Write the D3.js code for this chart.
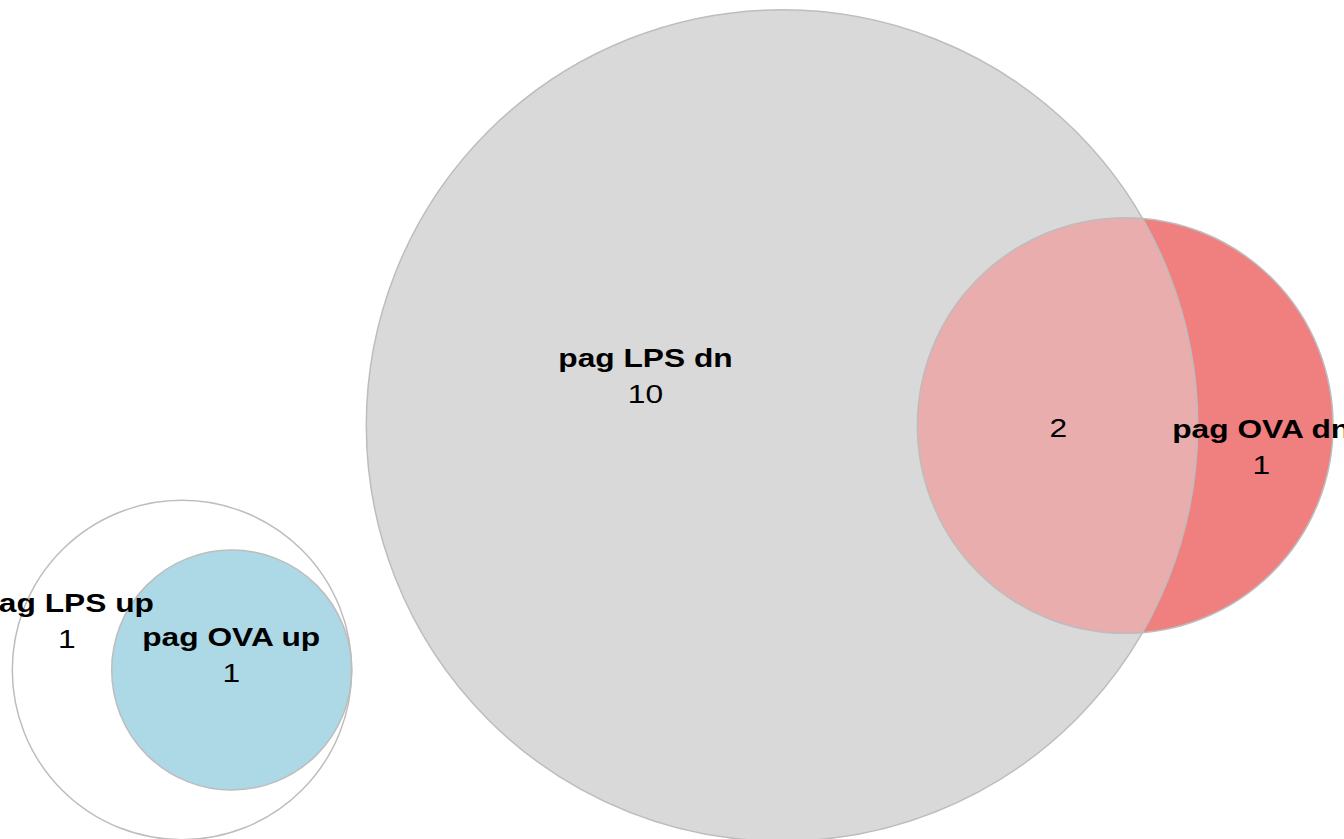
<!DOCTYPE html>
<html>
<head>
<meta charset="utf-8">
<script src="https://cdn.jsdelivr.net/npm/d3@7"></script>
<style>
  html, body { margin: 0; padding: 0; background: #fff; overflow: hidden; }
  svg { display: block; }
  text { font-family: "Liberation Sans", Arial, sans-serif; fill: #000; }
</style>
</head>
<body>
<svg id="venn" width="1344" height="839"></svg>
<script>
// Sets and their sizes
const setNames = ["pag LPS dn", "pag OVA dn", "pag LPS up", "pag OVA up"];
const setSizes = [12, 3, 2, 1];
const setColors = ["#d9d9d9", "#f08080", "#ffffff", "#add8e6"];

// Pairwise overlaps (indices into setNames)
const overlapPairs = [[0, 1], [2, 3]];
const overlapSizes = [2, 1];

// Counts shown in each region
const regionCounts = [10, 1, 1, 1];   // exclusive to each set (OVA up shows its whole set)
const overlapCounts = [2, null];      // label only the first lens

const width = 1344, height = 839;
const svg = d3.select("#venn");

// radius scale, area proportional to size
const r = d3.scaleSqrt().domain([0, 1]).range([0, 120]);

// lens area of two circles at distance d
function lensArea(r1, r2, d) {
    if (d >= r1 + r2) return 0;
    if (d <= Math.abs(r1 - r2)) return Math.PI * Math.min(r1, r2) ** 2;
    const a = r1 * r1 * Math.acos((d * d + r1 * r1 - r2 * r2) / (2 * d * r1));
    const b = r2 * r2 * Math.acos((d * d + r2 * r2 - r1 * r1) / (2 * d * r2));
    const c = 0.5 * Math.sqrt((-d + r1 + r2) * (d + r1 - r2) * (d - r1 + r2) * (d + r1 + r2));
    return a + b - c;
}

// distance that gives the wanted overlap (bisection)
function solveDistance(r1, r2, area) {
    let lo = Math.abs(r1 - r2), hi = r1 + r2;
    if (area >= Math.PI * Math.min(r1, r2) ** 2 - 1e-6) return lo;
    for (let i = 0; i < 100; i++) {
        const mid = (lo + hi) / 2;
        if (lensArea(r1, r2, mid) > area) lo = mid; else hi = mid;
    }
    return (lo + hi) / 2;
}

const unitArea = Math.PI * r(1) ** 2;
const radii = setSizes.map(s => r(s));

// anchor of the first circle in each cluster, second circle sits to its right
const anchors = [[782, 425.5], [182, 670]];
const centers = [];
overlapPairs.forEach(([a, b], i) => {
    const d = solveDistance(radii[a], radii[b], overlapSizes[i] * unitArea);
    centers[a] = anchors[i];
    centers[b] = [anchors[i][0] + d, anchors[i][1]];
});

const circles = setNames.map((name, i) => ({
    name, i, x: centers[i][0], y: centers[i][1], r: radii[i], color: setColors[i]
}));

// clip path for the first lens
const defs = svg.append("defs");
defs.append("clipPath").attr("id", "clip-lps-dn")
    .append("circle")
    .attr("cx", circles[0].x).attr("cy", circles[0].y).attr("r", circles[0].r);

// fills
svg.append("g").selectAll("circle")
    .data(circles)
    .join("circle")
    .attr("cx", d => d.x).attr("cy", d => d.y).attr("r", d => d.r)
    .attr("fill", d => d.color);

// overlap of the two "dn" sets
svg.append("circle")
    .attr("clip-path", "url(#clip-lps-dn)")
    .attr("cx", circles[1].x).attr("cy", circles[1].y).attr("r", circles[1].r)
    .attr("fill", "#e8adac");

// outlines
svg.append("g").selectAll("circle")
    .data(circles)
    .join("circle")
    .attr("cx", d => d.x).attr("cy", d => d.y).attr("r", d => d.r)
    .attr("fill", "none")
    .attr("stroke", "#bdbdbd")
    .attr("stroke-width", 1.5);

// label offsets from each circle centre (bold baseline)
const labelOffsets = [[-136.5, -58.8], [136, 12.5], [-115.3, -58.3], [-0.5, -24.5]];
const overlapLabelOffsets = [[-67, 11.2]];
const lineGap = 36.5;
const stretch = 1.22;

const labels = svg.append("g").attr("font-size", 26);
circles.forEach((c, i) => {
    const g = labels.append("g")
        .attr("transform", `translate(${c.x + labelOffsets[i][0]},${c.y + labelOffsets[i][1]}) scale(${stretch},1)`);
    g.append("text").attr("text-anchor", "middle").attr("font-weight", "bold").text(c.name);
    g.append("text").attr("text-anchor", "middle").attr("y", lineGap).text(regionCounts[i]);
});

overlapPairs.forEach(([a, b], i) => {
    if (overlapCounts[i] == null) return;
    const c = circles[b];
    labels.append("text")
        .attr("text-anchor", "middle")
        .attr("transform", `translate(${c.x + overlapLabelOffsets[i][0]},${c.y + overlapLabelOffsets[i][1]}) scale(${stretch},1)`)
        .text(overlapCounts[i]);
});
</script>
</body>
</html>
